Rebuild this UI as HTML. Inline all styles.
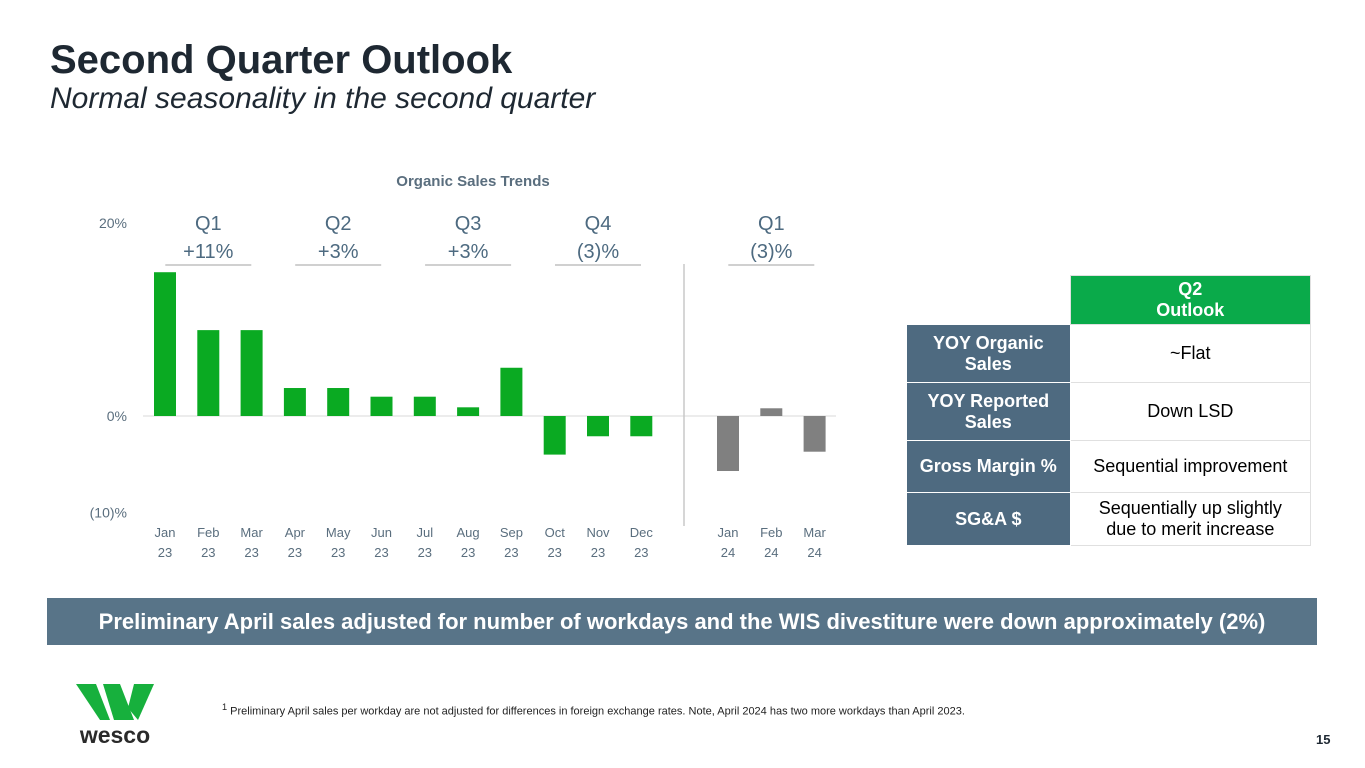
<!DOCTYPE html>
<html><head><meta charset="utf-8"><style>
body{margin:0;width:1365px;height:768px;background:#fff;position:relative;overflow:hidden;font-family:"Liberation Sans","DejaVu Sans",sans-serif}
.abs{position:absolute}
td{border:1px solid #e0e0e0;text-align:center;font-size:18px;padding:0}
</style></head><body>
<div class="abs" style="left:50px;top:38px;font-size:40px;font-weight:bold;color:#1e2832">Second Quarter Outlook</div>
<div class="abs" style="left:50px;top:82px;font-size:30px;font-style:italic;color:#1e2832">Normal seasonality in the second quarter</div>
<svg class="abs" style="left:0;top:0" width="900" height="580" id="chart"></svg>
<table class="abs" style="left:906px;top:275px;border-collapse:collapse;width:405px">
<tr style="height:49px"><td style="border:none;background:#fff"></td><td style="background:#0aaa4a;color:#fff;font-weight:bold;width:240px">Q2<br>Outlook</td></tr>
<tr style="height:58px"><td style="background:#4e6a80;color:#fff;font-weight:bold;width:163px;border-color:#fff">YOY Organic<br>Sales</td><td>~Flat</td></tr>
<tr style="height:58px"><td style="background:#4e6a80;color:#fff;font-weight:bold;border-color:#fff">YOY Reported<br>Sales</td><td>Down LSD</td></tr>
<tr style="height:52px"><td style="background:#4e6a80;color:#fff;font-weight:bold;border-color:#fff">Gross Margin %</td><td>Sequential improvement</td></tr>
<tr style="height:53px"><td style="background:#4e6a80;color:#fff;font-weight:bold;border-color:#fff">SG&amp;A $</td><td>Sequentially up slightly<br>due to merit increase</td></tr>
</table>
<div class="abs" style="left:47px;top:598px;width:1270px;height:47px;background:#587488;color:#fff;font-weight:bold;font-size:22px;line-height:47px;text-align:center">Preliminary April sales adjusted for number of workdays and the WIS divestiture were down approximately (2%)</div>
<div class="abs" style="left:222px;top:702px;font-size:11px;color:#222"><sup>1</sup> Preliminary April  sales per workday are not adjusted for differences in foreign exchange rates. Note, April 2024 has two more workdays than April 2023.</div>
<div class="abs" style="left:1316px;top:732px;font-size:13px;font-weight:bold;color:#1e2832">15</div>
<svg class="abs" style="left:76px;top:684px" width="80" height="62">
<polygon points="0,0 20,0 34,36 24,36" fill="#17b03d"/><polygon points="27,0 44,0 58,36 38,36" fill="#17b03d"/><polygon points="58,0 78,0 62,36 52,24" fill="#17b03d"/>
<text x="39" y="59" text-anchor="middle" font-size="23" font-weight="bold" fill="#2a2a2a" font-family="Liberation Sans,sans-serif">wesco</text></svg>
<script>
const categories=["Jan 23","Feb 23","Mar 23","Apr 23","May 23","Jun 23","Jul 23","Aug 23","Sep 23","Oct 23","Nov 23","Dec 23","Jan 24","Feb 24","Mar 24"];
const values=[14.9,8.9,8.9,2.9,2.9,2.0,2.0,0.9,5.0,-4.0,-2.1,-2.1,-5.7,0.8,-3.7];
const quarterNames=["Q1","Q2","Q3","Q4","Q1"];
const quarterValues=["+11%","+3%","+3%","(3)%","(3)%"];
const yTicks=[20,0,-10];
const yTickLabels=["20%","0%","(10)%"];
const svg=document.getElementById('chart');
const NS="http://www.w3.org/2000/svg";
const y=v=>416-v*9.65;
const x=i=>i<12?165+i*43.3:728+(i-12)*43.3;
function mk(t,a){const e=document.createElementNS(NS,t);for(const k in a)e.setAttribute(k,a[k]);svg.appendChild(e);return e;}
let t=mk('text',{x:473,y:186,'text-anchor':'middle','font-size':15,'font-weight':'bold',fill:'#5a6e7e'});t.textContent="Organic Sales Trends";

yTicks.forEach((v,i)=>{const e=mk('text',{x:127,y:y(v)+5,'text-anchor':'end','font-size':14,fill:'#5a6e7e'});e.textContent=yTickLabels[i];
});
const zl=mk('line',{x1:143,x2:836,y1:y(0),y2:y(0),stroke:'#d9d9d9','stroke-width':1});

const sep=mk('line',{x1:684,x2:684,y1:264,y2:526,stroke:'#c8c8c8','stroke-width':1.5});

values.forEach((v,i)=>{const b=mk('rect',{x:x(i)-11,width:22,y:Math.min(y(v),y(0)),height:Math.abs(y(v)-y(0)),fill:i<12?'#0aaa22':'#808080'});

const p=categories[i].split(' ');[0,1].forEach(k=>{const e=mk('text',{x:x(i),y:537+k*20,'text-anchor':'middle','font-size':13,fill:'#5a6e7e'});e.textContent=p[k];
});});
quarterNames.forEach((q,j)=>{const cx=j<4?(x(j*3)+x(j*3+2))/2:(x(12)+x(14))/2;
const a=mk('text',{x:cx,y:230,'text-anchor':'middle','font-size':20,fill:'#4d6a80'});a.textContent=q;

const b=mk('text',{x:cx,y:258,'text-anchor':'middle','font-size':20,fill:'#4d6a80'});b.textContent=quarterValues[j];

const l=mk('line',{x1:cx-43,x2:cx+43,y1:265,y2:265,stroke:'#a0a0a0','stroke-width':1});
});
</script>
</body></html>
